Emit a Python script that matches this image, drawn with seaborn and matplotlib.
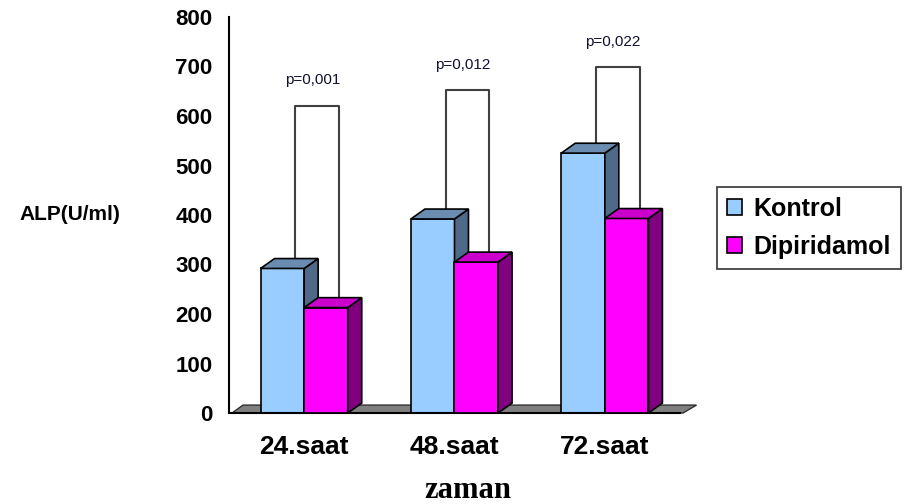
import matplotlib
matplotlib.use("Agg")
import matplotlib.pyplot as plt
import seaborn as sns
import pandas as pd
from matplotlib.patches import Polygon, Patch

# ---- data ----
categories = ["24.saat", "48.saat", "72.saat"]
kontrol = [292, 392, 525]
dipiridamol = [213, 305, 393]
series_names = ["Kontrol", "Dipiridamol"]
p_labels = ["p=0,001", "p=0,012", "p=0,022"]
bracket_tops = [620, 652, 698]
y_ticks = [0, 100, 200, 300, 400, 500, 600, 700, 800]

df = pd.DataFrame({
    "zaman": categories * 2,
    "ALP": kontrol + dipiridamol,
    "grup": [series_names[0]] * 3 + [series_names[1]] * 3,
})

sns.set_style("white")
plt.rcParams['font.family'] = ['Liberation Sans', 'DejaVu Sans']
plt.rcParams['text.color'] = 'black'
plt.rcParams['xtick.color'] = 'black'
plt.rcParams['ytick.color'] = 'black'
plt.rcParams['axes.labelcolor'] = 'black'

front = {"Kontrol": "#99CCFF", "Dipiridamol": "#FF00FF"}
side = {"Kontrol": "#4E6A88", "Dipiridamol": "#800080"}
top = {"Kontrol": "#6A8CB0", "Dipiridamol": "#CC00CC"}

fig = plt.figure(figsize=(9.07, 5.04), dpi=100)
ax = fig.add_axes([229 / 907, 1 - 413 / 504, 451 / 907, 396 / 504])

sns.barplot(data=df, x="zaman", y="ALP", hue="grup", hue_order=series_names,
            palette=front, width=0.58, saturation=1, edgecolor="black",
            linewidth=1.2, legend=False, ax=ax, errorbar=None)

ax.set_xlim(-0.5, 2.5)
ax.set_ylim(0, 800)

dx, dy = 0.093, 20.0

# floor
floor = Polygon([(-0.48, 0), (-0.407, 16), (2.61, 16), (2.52, 0)], closed=True,
                facecolor="#808080", edgecolor="#303030", lw=1.0, zorder=0.5,
                clip_on=False)
ax.add_patch(floor)

# 3D sides / tops
for i, (cont, name) in enumerate(zip(ax.containers, series_names)):
    z = 2 + i
    for rect in cont:
        rect.set_zorder(z)
        x0, w, h = rect.get_x(), rect.get_width(), rect.get_height()
        s = Polygon([(x0 + w, 0), (x0 + w + dx, dy), (x0 + w + dx, h + dy), (x0 + w, h)],
                    closed=True, facecolor=side[name], edgecolor="black", lw=1.2,
                    zorder=z, clip_on=False)
        t = Polygon([(x0, h), (x0 + dx, h + dy), (x0 + w + dx, h + dy), (x0 + w, h)],
                    closed=True, facecolor=top[name], edgecolor="black", lw=1.2,
                    zorder=z, clip_on=False)
        ax.add_patch(s)
        ax.add_patch(t)

# brackets + p-values
k_rects = list(ax.containers[0])
d_rects = list(ax.containers[1])
for i in range(len(categories)):
    kr, dr = k_rects[i], d_rects[i]
    xl = kr.get_x() + kr.get_width() / 2 + 0.087
    xr = dr.get_x() + dr.get_width() / 2 + 0.087
    yt = bracket_tops[i]
    ax.plot([xl, xl, xr, xr], [kr.get_height() + dy * 0.5, yt, yt, dr.get_height() + dy * 0.5],
            color="#404040", lw=1.5, zorder=1.9, clip_on=False)
    ax.text(i + 0.055, yt + 52, p_labels[i], ha="center", va="center",
            fontsize=11, color="#101030", zorder=5)

# axes styling
for sp in ["top", "right"]:
    ax.spines[sp].set_visible(False)
ax.spines["left"].set_color("black")
ax.spines["left"].set_linewidth(1.5)
ax.spines["bottom"].set_color("black")
ax.spines["bottom"].set_linewidth(1.5)

ax.set_yticks(y_ticks)
ax.set_yticklabels([str(v) for v in y_ticks], fontsize=16, fontweight="bold")
ax.tick_params(axis="y", direction="out", length=6, width=1.5, color="black", pad=6)

ax.set_xticks([0, 1, 2])
ax.set_xticklabels(categories, fontsize=19, fontweight="bold")
ax.tick_params(axis="x", which="major", length=0, pad=16)
ax.set_xticks([-0.5, 0.5, 1.5, 2.5], minor=True)
ax.tick_params(axis="x", which="minor", direction="out", length=7, width=1.5, color="black")

ax.set_xlabel("")
ax.set_ylabel("")

fig.text(70 / 907, 1 - 215 / 504, "ALP(U/ml)", ha="center", va="center",
         fontsize=15, fontweight="bold")
fig.text(468 / 907, 1 - 490 / 504, "zaman", ha="center", va="center",
         fontsize=22, fontweight="bold", family=["Liberation Serif", "DejaVu Serif"])

handles = [Patch(facecolor=front[n], edgecolor="black", lw=1.2) for n in series_names]
leg = fig.legend(handles, series_names, loc="upper left",
                 bbox_to_anchor=(717 / 907, 1 - 187 / 504),
                 prop={"weight": "bold", "size": 18}, frameon=True, fancybox=False,
                 handlelength=0.6, handleheight=0.6, handletextpad=0.45,
                 labelspacing=0.55, borderpad=0.4, borderaxespad=0)
leg.get_frame().set_edgecolor("black")
leg.get_frame().set_linewidth(1.2)

fig.savefig("out.png", dpi=100)
